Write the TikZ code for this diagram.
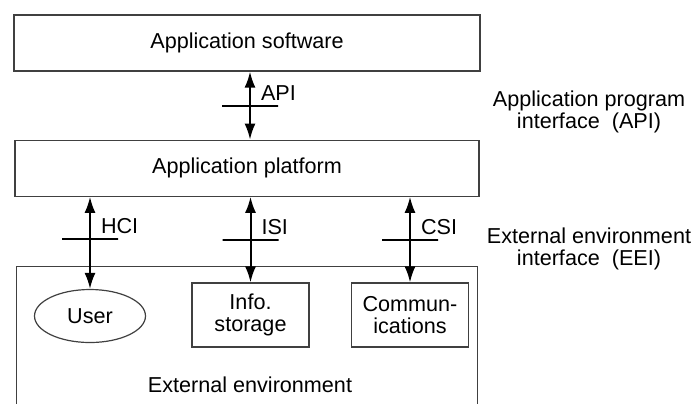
\documentclass[tikz,border=0pt]{standalone}
\usepackage{fontspec}
\setmainfont{Liberation Sans}
\usetikzlibrary{positioning,arrows.meta,shapes.geometric}
\tikzset{
  box/.style={draw=black!75,line width=0.6pt,align=center,inner sep=2pt},
  arr/.style={arrows={Latex[length=8pt,width=5.5pt]-Latex[length=8pt,width=5.5pt]},line width=1pt},
  tickbar/.style={draw,line width=1pt,minimum width=28pt,minimum height=0pt,inner sep=0pt},
  iflbl/.style={anchor=south west,xshift=3pt,inner sep=2pt},
  side/.style={align=center}
}

\begin{document}
\begin{tikzpicture}[x=0.5pt,y=-0.5pt,font=\fontsize{10.8}{11.2}\selectfont]
\path[use as bounding box] (0,0) rectangle (700,403);

\node[box, minimum width=233pt, minimum height=28pt] (appsw) at (247,43) {Application software};
\node[box, below=34pt of appsw, minimum width=232pt, minimum height=28pt] (platform) {Application platform};
\node[box, below=34.5pt of platform, minimum width=230.5pt, minimum height=75pt] (extenv) {};

\node[box, ellipse, inner sep=0pt, minimum width=55.5pt, minimum height=26.5pt] (user) at (90,316) {User};
\node[box, minimum width=58.5pt, minimum height=32pt] (info) at (250.5,315) {Info.\\storage};
\node[box, minimum width=58.5pt, minimum height=32pt] (comm) at (410,315) {Commun-\\ications};
\node (extlbl) at (250,385) {External environment};

\draw[arr] ([xshift=1.5pt]appsw.south) -- ([xshift=1.5pt]platform.north)
  node[midway,tickbar]{} node[midway,iflbl]{API};
\draw[arr] (user.north |- platform.south) -- (user.north)
  node[pos=0.46,tickbar]{} node[pos=0.46,iflbl]{HCI};
\draw[arr] (info.north |- platform.south) -- (info.north)
  node[midway,tickbar]{} node[midway,iflbl]{ISI};
\draw[arr] (comm.north |- platform.south) -- (comm.north)
  node[midway,tickbar]{} node[midway,iflbl]{CSI};

\node[side] (apinote) at (589,112) {Application program\\interface\ \ (API)};
\node[side] (eeinote) at (589,249) {External environment\\interface\ \ (EEI)};
\end{tikzpicture}
\end{document}
